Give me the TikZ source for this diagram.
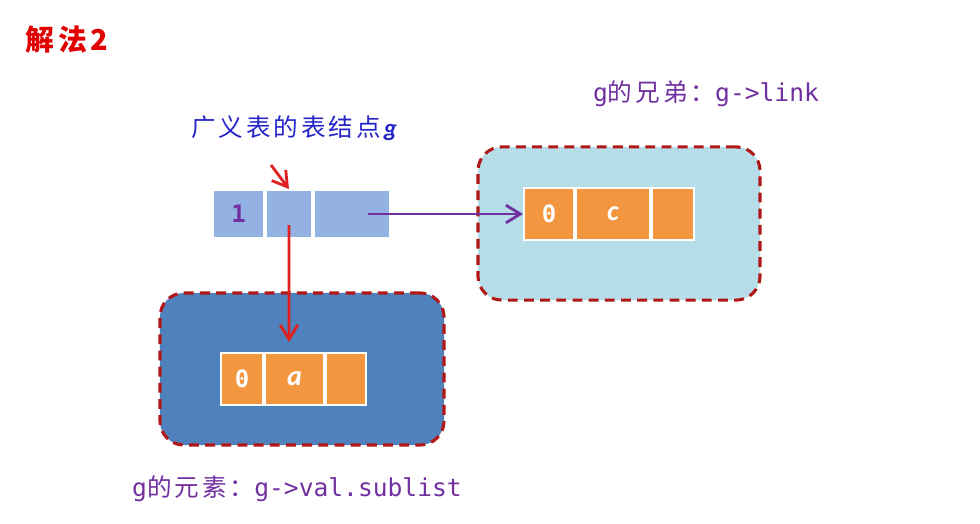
\documentclass[tikz,border=0pt]{standalone}
\usepackage{fontspec}
\setmainfont{Carlito}
\setmonofont{DejaVu Sans Mono}
\newfontfamily\cjk[LetterSpace=12]{Noto Sans CJK SC}
\usetikzlibrary{
  arrows.meta,
  positioning
}
\definecolor{titlered}{HTML}{E00000}
\definecolor{labelblue}{HTML}{2424C8}
\definecolor{labelpurple}{HTML}{7030A0}
\definecolor{nodeblue}{HTML}{93B1E2}
\definecolor{nodeorange}{HTML}{F29640}
\definecolor{lightbox}{HTML}{B7DDE8}
\definecolor{darkbox}{HTML}{4F81BD}
\definecolor{boxred}{HTML}{B01818}
\definecolor{ptrred}{HTML}{E02020}
\tikzset{
  cell/.style={draw=white, line width=1.4pt, inner sep=0pt, minimum height=1.2cm},
  gcell/.style={cell, fill=nodeblue},
  ocell/.style={cell, fill=nodeorange, minimum height=1.3cm},
  dashbox/.style={draw=boxred, line width=2.2pt, dash pattern=on 7pt off 4.5pt,
    rounded corners=0.6cm},
  ptr/.style={-{Straight Barb[length=3.6mm, width=4.4mm]}, line width=2pt},
  tagnum/.style={font=\ttfamily\bfseries\fontsize{17}{20}\selectfont},
  valtext/.style={font=\bfseries\itshape\fontsize{20}{24}\selectfont, text=white},
  note/.style={font=\fontsize{17.5}{21}\selectfont, text=labelpurple},
}

\begin{document}
\begin{tikzpicture}[x=0.025cm, y=-0.025cm]
\useasboundingbox (0,0) rectangle (980,524);

% --- title ---
\node[font=\cjk\bfseries\fontsize{20.5}{24}\selectfont, text=titlered, anchor=west]
  (title) at (21,40) {解法2};

% --- the two sub-lists (drawn first, behind) ---
\node[dashbox, fill=lightbox, minimum width=7.05cm, minimum height=3.83cm]
  (linkbox) at (619,223.5) {};
\node[dashbox, fill=darkbox, minimum width=7.1cm, minimum height=3.8cm]
  (subbox) at (302,369) {};

% --- table node g ---
\node[gcell, minimum width=1.275cm, tagnum, text=labelpurple] (gtag) at (238.5,214) {1};
\node[gcell, minimum width=1.15cm, right=0pt of gtag] (gmid) {};
\node[gcell, minimum width=1.9cm, right=0pt of gmid] (gnext) {};
\node[font=\fontsize{17.5}{21}\selectfont, text=labelblue] (glabel) at (294,128)
  {{\cjk 广义表的表结点}\textbf{\textit{g}}};

% --- atom c (brother) ---
\node[ocell, minimum width=1.25cm, tagnum, text=white] (ctag) at (549,214) {0};
\node[ocell, minimum width=1.85cm, right=0pt of ctag, valtext] (cval) {c};
\node[ocell, minimum width=1.05cm, right=0pt of cval] (cnext) {};

% --- atom a (element) ---
\node[ocell, minimum width=1.05cm, tagnum, text=white] (atag) at (242,379) {0};
\node[ocell, minimum width=1.475cm, right=0pt of atag, valtext] (aval) {a};
\node[ocell, minimum width=1.0cm, right=0pt of aval] (anext) {};

% --- notes ---
\node[note] (linknote) at (706,94)
  {{\ttfamily g}{\cjk 的兄弟：}{\ttfamily g->link}};
\node[note] (subnote) at (297,489)
  {{\ttfamily g}{\cjk 的元素：}{\ttfamily g->val.sublist}};

% --- pointers ---
\coordinate (gptr) at (271,165);
\coordinate (subend) at (289,342);
\draw[ptr, ptrred] (gptr) -- (gmid.north);
\draw[ptr, ptrred] ([yshift=-0.28cm]gmid.center) -- (subend);
\draw[ptr, labelpurple] ([xshift=0.4cm]gnext.center) -- (ctag.west);

\end{tikzpicture}
\end{document}
